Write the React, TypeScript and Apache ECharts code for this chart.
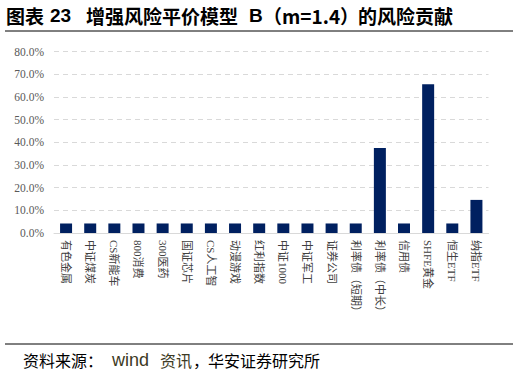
import React, { useEffect, useRef } from "react";
import * as echarts from "echarts";

const categories = [
  "有色金属", "中证煤炭", "CS新能车", "800消费", "300医药", "国证芯片",
  "CS人工智", "动漫游戏", "红利指数", "中证1000", "中证军工", "证券公司",
  "利率债（短期）", "利率债（中长）", "信用债", "SHFE黄金", "恒生ETF", "纳指ETF",
];
const riskContribution = [
  4.2, 4.2, 4.2, 4.2, 4.2, 4.2, 4.2, 4.2, 4.2, 4.2, 4.2, 4.2,
  4.2, 37.5, 4.2, 65.6, 4.2, 14.6,
];
const titleParts = ["图表", "23", "增强风险平价模型", "B", "（m=1.4）", "的风险贡献"];
const sourceParts = ["资料来源：", "wind", "资讯", "，", "华安证券研究所"];

export default function App() {
  const ref = useRef<HTMLDivElement>(null);
  useEffect(() => {
    const chart = echarts.init(ref.current!, null, { renderer: "svg" });
    const serif = "'Liberation Serif', 'Noto Sans CJK SC', serif";
    const cjkSans = "'Noto Sans CJK SC', 'Liberation Sans', sans-serif";
    const latinSans = "'Liberation Sans', Arial, sans-serif";
    const titleX = [6, 50, 86, 249, 263, 358];
    const titleFonts = [cjkSans, latinSans, cjkSans, latinSans, cjkSans, cjkSans];
    const titleEls = titleParts.map((t, i) => ({
      type: "text",
      x: titleX[i],
      y: 15.5,
      style: {
        text: t,
        fontSize: 19,
        fontWeight: "bold",
        fill: "#000000",
        fontFamily: titleFonts[i],
        textVerticalAlign: "middle",
        verticalAlign: "middle",
      },
    }));
    const srcX = [23, 112, 160, 193, 208];
    const srcSize = [16, 18, 16, 16, 16];
    const srcFill = ["#000000", "#3d3a24", "#3d3a24", "#000000", "#000000"];
    const srcFont = [cjkSans, latinSans, cjkSans, cjkSans, cjkSans];
    const srcEls = sourceParts.map((t, i) => ({
      type: "text",
      x: srcX[i],
      y: 359.5,
      style: {
        text: t,
        fontSize: srcSize[i],
        fill: srcFill[i],
        fontFamily: srcFont[i],
        fontWeight: "normal",
        textVerticalAlign: "middle",
        verticalAlign: "middle",
      },
    }));
    chart.setOption({
      animation: false,
      backgroundColor: "#ffffff",
      grid: { left: 54, right: 30.5, top: 51.6, bottom: 142, containLabel: false },
      xAxis: {
        type: "category",
        data: categories,
        axisLine: { lineStyle: { color: "#d9d9d9", width: 1 } },
        axisTick: { show: false },
        axisLabel: {
          rotate: -90,
          interval: 0,
          margin: 7,
          fontSize: 11,
          color: "#404040",
          fontFamily: serif,
        },
      },
      yAxis: {
        type: "value",
        min: 0,
        max: 80,
        interval: 10,
        axisLine: { show: false },
        axisTick: { show: false },
        splitLine: { lineStyle: { color: "#d9d9d9", type: [5, 4], width: 1 } },
        axisLabel: {
          formatter: (v: number) => v.toFixed(1) + "%",
          fontSize: 11.5,
          color: "#595959",
          fontFamily: "'Liberation Serif', 'Times New Roman', serif",
          margin: 10,
        },
      },
      series: [
        {
          type: "bar",
          data: riskContribution,
          barWidth: 12,
          itemStyle: { color: "#002060" },
        },
      ],
      graphic: [
        ...titleEls,
        {
          type: "line",
          shape: { x1: 5, y1: 31, x2: 513, y2: 31 },
          style: { stroke: "#000000", lineWidth: 1 },
        },
        {
          type: "line",
          shape: { x1: 5, y1: 344, x2: 513, y2: 344 },
          style: { stroke: "#000000", lineWidth: 1 },
        },
        ...srcEls,
      ],
    });
    return () => chart.dispose();
  }, []);
  return (
    <div
      ref={ref}
      style={{ position: "absolute", left: 0, top: 0, width: 519, height: 375 }}
    />
  );
}
